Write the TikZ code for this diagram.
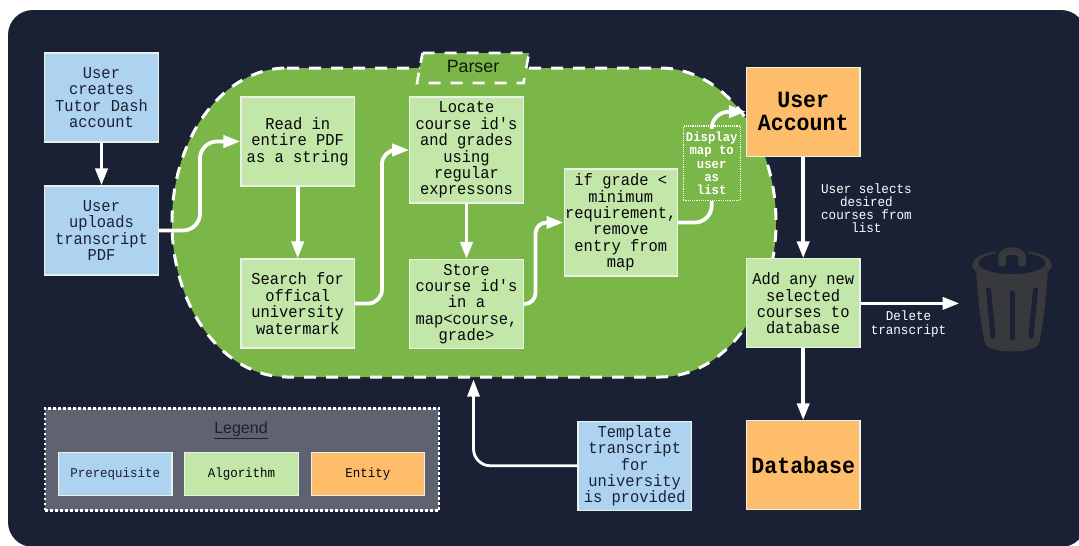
\documentclass[tikz,border=0pt]{standalone}
\usepackage{fontspec}
\setmainfont{Liberation Sans}
\setmonofont[FakeStretch=0.93]{Liberation Mono}
\usetikzlibrary{arrows.meta,calc}
\definecolor{bgnavy}{HTML}{1B2135}
\definecolor{blobgreen}{HTML}{7AB648}
\definecolor{lightgreen}{HTML}{C3E6A9}
\definecolor{lightblue}{HTML}{ADD3F0}
\definecolor{entityorange}{HTML}{FDBD6B}
\definecolor{legendgray}{HTML}{5F6270}
\definecolor{trashgray}{HTML}{38393D}
\definecolor{boxedge}{HTML}{E9F2E4}
\tikzset{
  x=1pt,y=-1pt,
  basebox/.style={draw=boxedge,line width=1.1pt,inner sep=0pt,align=center,minimum width=113.5pt,minimum height=89pt},
  prereq/.style={basebox,fill=lightblue,text=bgnavy,font=\fontsize{16.6}{16.4}\selectfont\ttfamily},
  algo/.style={basebox,fill=lightgreen,text=black!80!bgnavy,font=\fontsize{16.6}{16.4}\selectfont\ttfamily},
  entity/.style={basebox,fill=entityorange,text=black,font=\fontsize{23.2}{23.5}\selectfont\ttfamily\bfseries},
  legitem/.style={basebox,minimum height=42.5pt,font=\fontsize{13.4}{13}\selectfont\ttfamily},
  whitenote/.style={text=white,align=center,inner sep=0pt,font=\fontsize{13.5}{13.2}\selectfont\ttfamily},
  flow/.style={draw=white,line width=3.8pt,-{Triangle[length=17pt,width=12pt]}},
  bendy/.style={flow,rounded corners=17pt},
  blobline/.style={draw=white,line width=3pt,dash pattern=on 12pt off 10pt},
  trashbit/.style={fill=trashgray,draw=none},
}
\begin{document}
\begin{tikzpicture}
\useasboundingbox (0,0) rectangle (1079,546);
\fill[white] (0,0) rectangle (1079,546);
\begin{scope}
\clip (0,0) rectangle (1079,546);
\fill[bgnavy,rounded corners=25pt] (8,10) rectangle (1086,547);
\end{scope}

% Parser region
\path[fill=blobgreen] (287,68) -- (660,68) arc[start angle=-90,end angle=0,x radius=116,y radius=154.5]
  arc[start angle=0,end angle=90,x radius=116,y radius=154.5] -- (287,377)
  arc[start angle=90,end angle=180,x radius=115,y radius=154.5]
  arc[start angle=180,end angle=270,x radius=115,y radius=154.5] -- cycle;
\path[blobline] (287,68) -- (660,68) arc[start angle=-90,end angle=0,x radius=116,y radius=154.5]
  arc[start angle=0,end angle=90,x radius=116,y radius=154.5] -- (287,377)
  arc[start angle=90,end angle=180,x radius=115,y radius=154.5]
  arc[start angle=180,end angle=270,x radius=115,y radius=154.5] -- cycle;
\path[fill=blobgreen,blobline,line width=2.6pt] (422.5,53) -- (529,53) -- (523.5,83) -- (417,83) -- cycle;
\node[inner sep=0pt,text=black!85!blobgreen,font=\fontsize{17.8}{20}\selectfont] (parsertitle) at (473,66) {Parser};

% Trash can
\begin{scope}
\path[trashbit] (976,268) .. controls (978,300) and (981,325) .. (985,344)
  .. controls (990,354) and (1034,354) .. (1039,344)
  .. controls (1043,325) and (1046,300) .. (1048,268) -- cycle;
\fill[trashgray] (1012,265) ellipse[x radius=40,y radius=15];
\fill[bgnavy] (1012,263) ellipse[x radius=33.5,y radius=11];
\draw[bgnavy,line width=14pt,line cap=round] (1002,263) -- (1002,257) arc[start angle=180,end angle=360,x radius=10,y radius=6] -- (1022,263);
\draw[trashgray,line width=7.5pt,line cap=round] (1002,263) -- (1002,257) arc[start angle=180,end angle=360,x radius=10,y radius=6] -- (1022,263);
\draw[bgnavy,line width=5pt,line cap=round] (988.5,290) -- (993,336);
\draw[bgnavy,line width=5pt,line cap=round] (1012,293) -- (1012,338);
\draw[bgnavy,line width=5pt,line cap=round] (1035.5,290) -- (1031,336);
\end{scope}

% Nodes
\node[prereq] (creates) at (101.5,97.5) {User\\creates\\Tutor Dash\\account};
\node[prereq] (uploads) at (101.5,230.5) {User\\uploads\\transcript\\PDF};
\node[algo] (read) at (297.7,141.5) {Read in\\entire PDF\\as a string};
\node[algo] (search) at (297.7,303.5) {Search for\\offical\\university\\watermark};
\node[algo,minimum height=106pt] (locate) at (466.5,150) {Locate\\course id's\\and grades\\using\\regular\\expressons};
\node[algo] (store) at (466.5,304) {Store\\course id's\\in a\\map<course,\\grade>};
\node[algo,minimum height=107pt] (ifgrade) at (620.8,222.5) {if grade <\\minimum\\requirement,\\remove\\entry from\\map};
\node[draw=white,densely dotted,line width=1.2pt,minimum width=57pt,minimum height=74.5pt,inner sep=0pt,align=center,text=white,font=\fontsize{13.2}{13.2}\selectfont\ttfamily\bfseries] (display) at (711.7,163.3) {Display\\map to\\user\\as\\list};
\node[entity] (account) at (803.2,111.7) {User\\Account};
\node[algo] (add) at (803.2,303.4) {Add any new\\selected\\courses to\\database};
\node[entity] (database) at (803.2,465.3) {Database};
\node[prereq] (template) at (634.7,465.8) {Template\\transcript\\for\\university\\is provided};
\node[whitenote] (selects) at (866.4,208) {User selects\\desired\\courses from\\list};
\node[whitenote] (deletenote) at (908.5,324) {Delete\\transcript};

% Legend
\node[fill=legendgray,draw=white,line width=2.6pt,dash pattern=on 2.6pt off 2.4pt,minimum width=394pt,minimum height=102.5pt,inner sep=0pt] (legend) at (242,459.5) {};
\node[inner sep=0pt,text=bgnavy,font=\fontsize{16}{18}\selectfont] (legendtitle) at (241,430.5) {\underline{Legend}};
\node[legitem,fill=lightblue,text=bgnavy] (legprereq) at (115.2,473.8) {Prerequisite};
\node[legitem,fill=lightgreen,text=black!80!bgnavy] (legalgo) at (241.5,473.8) {Algorithm};
\node[legitem,fill=entityorange,text=black!80!bgnavy] (legentity) at (367.8,473.8) {Entity};

% Free ends and bend guides
\coordinate (trashend) at (959.5,303.4);
\coordinate (blobbottom) at (473.5,379.5);
\coordinate (b1) at (200,190);
\coordinate (b2) at (382,230);
\coordinate (b3) at (535.5,260);

% Connectors
\draw[flow] (creates) -- (uploads);
\draw[flow] (read) -- (search);
\draw[flow] (locate) -- (store);
\draw[flow] (account) -- (add);
\draw[flow] (add) -- (database);
\draw[flow] (add.east) -- (trashend);
\draw[bendy] (uploads.east) -| (b1) |- (read.west);
\draw[bendy,rounded corners=14pt] (search.east) -| (b2) |- (locate.west);
\draw[bendy,rounded corners=11pt] (store.east) -| (b3) |- (ifgrade.west);
\draw[flow,rounded corners=17pt,-] (ifgrade.east) -| (display.south);
\draw[bendy] (display.north) |- (account.west);
\draw[flow,line width=2.8pt,rounded corners=17pt] (template.west) -| (blobbottom);
\end{tikzpicture}
\end{document}
